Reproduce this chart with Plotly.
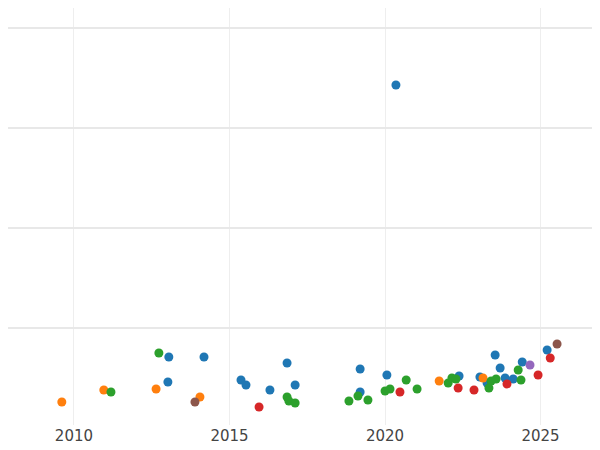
import plotly.graph_objects as go

# values (y axis carries no labels)
blue_x = [2020.35, 2013.05, 2014.18, 2013.02, 2015.37, 2015.53, 2016.85, 2016.30, 2017.11,
          2019.20, 2019.20, 2020.06, 2022.38, 2023.05, 2023.28, 2023.54, 2023.70, 2023.86,
          2024.12, 2024.41, 2025.21]
blue_y = [3.43, 0.71, 0.71, 0.46, 0.48, 0.43, 0.65, 0.38, 0.43,
          0.59, 0.36, 0.53, 0.52, 0.51, 0.45, 0.73, 0.60, 0.50,
          0.49, 0.66, 0.78]
orange_x = [2009.61, 2010.96, 2012.64, 2014.05, 2021.74, 2023.15]
orange_y = [0.26, 0.38, 0.39, 0.31, 0.47, 0.50]
green_x = [2011.19, 2012.73, 2016.85, 2016.91, 2017.11, 2018.84, 2019.13, 2019.45, 2020.00,
           2020.16, 2020.68, 2021.03, 2022.03, 2022.15, 2022.28, 2023.34, 2023.41, 2023.57,
           2024.28, 2024.37]
green_y = [0.36, 0.75, 0.31, 0.27, 0.25, 0.27, 0.32, 0.28, 0.37,
           0.39, 0.48, 0.39, 0.45, 0.50, 0.49, 0.40, 0.47, 0.49,
           0.58, 0.48]
red_x = [2015.95, 2020.48, 2022.35, 2022.86, 2023.92, 2024.92, 2025.31]
red_y = [0.21, 0.36, 0.40, 0.38, 0.44, 0.53, 0.70]
purple_x = [2024.66]
purple_y = [0.63]
brown_x = [2013.89, 2025.53]
brown_y = [0.26, 0.84]

series = [
    (blue_x, blue_y, "#1f77b4"),
    (orange_x, orange_y, "#ff7f0e"),
    (green_x, green_y, "#2ca02c"),
    (red_x, red_y, "#d62728"),
    (purple_x, purple_y, "#9467bd"),
    (brown_x, brown_y, "#8c564b"),
]

fig = go.Figure()
for xs, ys, col in series:
    fig.add_trace(go.Scatter(x=xs, y=ys, mode="markers",
                             marker=dict(color=col, size=9)))

# page body adds an 8px margin, so the figure is a bit smaller than the window
fig.update_layout(
    width=592, height=442,
    margin=dict(l=0, r=0, t=0, b=25),
    plot_bgcolor="white", paper_bgcolor="white",
    showlegend=False,
    font=dict(family="DejaVu Sans", size=15, color="#444"),
)
fig.update_xaxes(range=[2007.88, 2026.91], tickvals=[2010, 2015, 2020, 2025],
                 showgrid=True, gridcolor="#eeeeee", zeroline=False)
fig.update_yaxes(range=[0.03, 4.2], tickvals=[1, 2, 3, 4], showticklabels=False,
                 showgrid=True, gridcolor="#e8e8e8", gridwidth=2, zeroline=False)

fig.write_html("out.html")
